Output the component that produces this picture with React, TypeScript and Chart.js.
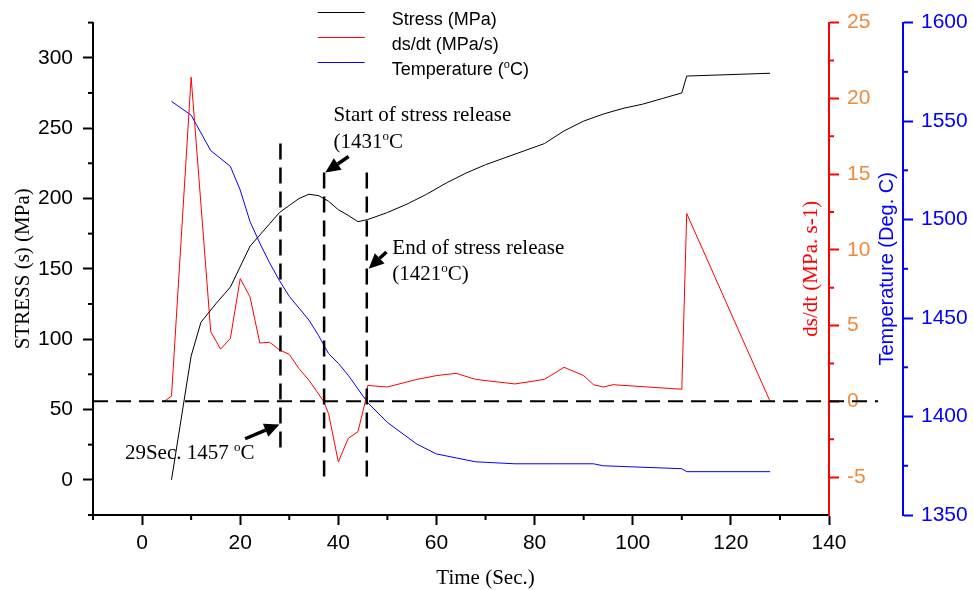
import React, { useEffect, useRef } from 'react';
import { Chart, registerables } from 'chart.js';

Chart.register(...registerables);

// ---- Data ----
const stressTime = [6, 10, 12, 15, 18, 22, 26, 28, 30, 32, 34, 36, 38, 40, 42, 44, 46, 50, 54, 58, 62, 66, 70, 74, 78, 82, 86, 90, 94, 98, 102, 106, 110, 111, 128];
const stressValues = [0, 88, 112, 125, 137, 166, 182, 190, 195, 200, 203, 202, 198, 192, 188, 183.5, 185, 190, 196, 203, 211, 218, 224, 229, 234, 239, 248, 255, 260, 264, 267, 271, 275, 287, 289];

const rateTime = [4.5, 6, 10, 14, 16, 18, 20, 22, 24, 26, 28, 30, 32, 34, 37, 38, 40, 42, 44, 45.5, 46, 50, 56, 60, 64, 68, 76, 82, 86, 90, 92, 94, 96, 110, 111, 128];
const rateValues = [0, 0.35, 21.4, 4.6, 3.45, 4.15, 8.1, 6.9, 3.85, 3.9, 3.4, 3.1, 2.15, 1.4, 0, -0.8, -4.0, -2.45, -2.0, 0, 1.05, 0.95, 1.45, 1.7, 1.85, 1.45, 1.15, 1.45, 2.25, 1.7, 1.1, 0.95, 1.1, 0.8, 12.4, 0];

const tempTime = [6, 10, 14, 18, 20, 22, 24, 26, 28, 30, 32, 34, 36, 38, 40, 42, 44, 46, 50, 56, 60, 64, 68, 76, 84, 92, 94, 110, 111, 128];
const tempValues = [1560, 1553, 1535, 1527, 1515, 1499, 1488, 1478, 1469, 1461, 1455, 1449, 1441, 1432, 1427, 1421, 1414, 1407, 1397, 1386, 1381, 1379, 1377, 1376, 1376, 1376, 1375, 1373.5, 1372, 1372];

// ---- Ticks ----
const xMajorTicks = [0, 20, 40, 60, 80, 100, 120, 140];
const xMinorTicks = [-10, 10, 30, 50, 70, 90, 110, 130];
const stressMajorTicks = [0, 50, 100, 150, 200, 250, 300];
const stressMinorTicks = [-25, 25, 75, 125, 175, 225, 275, 325];
const rateMajorTicks = [-5, 0, 5, 10, 15, 20, 25];
const rateMinorTicks = [-2.5, 2.5, 7.5, 12.5, 17.5, 22.5];
const tempMajorTicks = [1350, 1400, 1450, 1500, 1550, 1600];
const tempMinorTicks = [1375, 1425, 1475, 1525, 1575];

// ---- Labels ----
const seriesNames = ['Stress (MPa)', 'ds/dt (MPa/s)', 'Temperature ('];
const xTitle = 'Time (Sec.)';
const stressTitle = 'STRESS (s) (MPa)';
const rateTitle = 'ds/dt (MPa. s-1)';
const tempTitle = 'Temperature (Deg. C)';

// ---- Annotations (time, stress-axis units) ----
const markerTimes = [28.2, 37.1, 45.8];
const markerTop = [239, 218.5, 218.5];
const markerBottom = [20.5, 0, 0];
const arrows = [
  { from: [21.0, 29.2], to: [28.0, 39.4] },
  { from: [42.1, 229.8], to: [37.35, 218.5] },
  { from: [49.8, 162], to: [46.2, 150.1] },
];

const RED = '#ff0000';
const BLUE = '#0000ff';
const ORANGE = '#ef8a3c';
const SERIF = '"Liberation Serif", "Times New Roman", serif';
const SANS = '"Liberation Sans", Arial, sans-serif';

type Part = { text: string; sup?: boolean };

function drawParts(ctx: CanvasRenderingContext2D, parts: Part[], x: number, y: number, size: number, family: string, color: string) {
  let cx = x;
  ctx.fillStyle = color;
  ctx.textAlign = 'left';
  ctx.textBaseline = 'alphabetic';
  for (const p of parts) {
    const s = p.sup ? Math.round(size * 0.62) : size;
    ctx.font = `${s}px ${family}`;
    const dy = p.sup ? -size * 0.38 : 0;
    ctx.fillText(p.text, cx, y + dy);
    cx += ctx.measureText(p.text).width;
  }
}

function drawArrow(ctx: CanvasRenderingContext2D, x1: number, y1: number, x2: number, y2: number) {
  const ang = Math.atan2(y2 - y1, x2 - x1);
  const headLen = 15;
  const headW = 7;
  const bx = x2 - headLen * Math.cos(ang);
  const by = y2 - headLen * Math.sin(ang);
  ctx.setLineDash([]);
  ctx.lineWidth = 3.5;
  ctx.strokeStyle = '#000';
  ctx.beginPath();
  ctx.moveTo(x1, y1);
  ctx.lineTo(bx, by);
  ctx.stroke();
  ctx.fillStyle = '#000';
  ctx.beginPath();
  ctx.moveTo(x2, y2);
  ctx.lineTo(bx + headW * Math.sin(ang), by - headW * Math.cos(ang));
  ctx.lineTo(bx - headW * Math.sin(ang), by + headW * Math.cos(ang));
  ctx.closePath();
  ctx.fill();
}

const overlayPlugin = {
  id: 'overlay',
  afterDraw(chart: any) {
    const ctx: CanvasRenderingContext2D = chart.ctx;
    const xs = chart.scales.x;
    const ys = chart.scales.yStress;
    const yr = chart.scales.yRate;
    const yt = chart.scales.yTemp;
    const ca = chart.chartArea;
    ctx.save();

    // minor ticks
    ctx.setLineDash([]);
    ctx.lineWidth = 2;
    ctx.strokeStyle = '#000';
    for (const v of xMinorTicks) {
      const px = xs.getPixelForValue(v);
      ctx.beginPath(); ctx.moveTo(px, ca.bottom); ctx.lineTo(px, ca.bottom + 5); ctx.stroke();
    }
    for (const v of stressMinorTicks) {
      const py = ys.getPixelForValue(v);
      ctx.beginPath(); ctx.moveTo(ca.left - 5, py); ctx.lineTo(ca.left, py); ctx.stroke();
    }
    ctx.strokeStyle = RED;
    for (const v of rateMinorTicks) {
      const py = yr.getPixelForValue(v);
      ctx.beginPath(); ctx.moveTo(yr.left, py); ctx.lineTo(yr.left + 5, py); ctx.stroke();
    }
    ctx.strokeStyle = BLUE;
    for (const v of tempMinorTicks) {
      const py = yt.getPixelForValue(v);
      ctx.beginPath(); ctx.moveTo(yt.left, py); ctx.lineTo(yt.left + 5, py); ctx.stroke();
    }

    // horizontal dashed line at ds/dt = 0
    ctx.strokeStyle = '#000';
    ctx.lineWidth = 2;
    ctx.setLineDash([15, 8]);
    const y0 = yr.getPixelForValue(0);
    ctx.beginPath();
    ctx.moveTo(xs.getPixelForValue(-10), y0);
    ctx.lineTo(xs.getPixelForValue(150), y0);
    ctx.stroke();

    // vertical dashed markers
    ctx.lineWidth = 2.5;
    ctx.setLineDash([16, 8]);
    markerTimes.forEach((t, i) => {
      const px = xs.getPixelForValue(t);
      ctx.beginPath();
      ctx.moveTo(px, ys.getPixelForValue(markerTop[i]));
      ctx.lineTo(px, ys.getPixelForValue(markerBottom[i]));
      ctx.stroke();
    });

    // arrows
    for (const a of arrows) {
      drawArrow(ctx, xs.getPixelForValue(a.from[0]), ys.getPixelForValue(a.from[1]), xs.getPixelForValue(a.to[0]), ys.getPixelForValue(a.to[1]));
    }

    // annotation texts
    drawParts(ctx, [{ text: '29Sec. 1457 ' }, { text: 'o', sup: true }, { text: 'C' }], xs.getPixelForValue(-3.5), ys.getPixelForValue(14.9), 21, SERIF, '#000');
    drawParts(ctx, [{ text: 'Start of stress release' }], xs.getPixelForValue(39), ys.getPixelForValue(255.3), 21, SERIF, '#000');
    drawParts(ctx, [{ text: '(1431' }, { text: 'o', sup: true }, { text: 'C' }], xs.getPixelForValue(39), ys.getPixelForValue(236.2), 21, SERIF, '#000');
    drawParts(ctx, [{ text: 'End of stress release' }], xs.getPixelForValue(51), ys.getPixelForValue(160.7), 21, SERIF, '#000');
    drawParts(ctx, [{ text: '(1421' }, { text: 'o', sup: true }, { text: 'C)' }], xs.getPixelForValue(51), ys.getPixelForValue(142), 21, SERIF, '#000');

    // legend
    const legendColors = ['#000', RED, BLUE];
    const legendParts: Part[][] = [
      [{ text: seriesNames[0] }],
      [{ text: seriesNames[1] }],
      [{ text: seriesNames[2] }, { text: 'o', sup: true }, { text: 'C)' }],
    ];
    const lx = xs.getPixelForValue(35.8);
    legendParts.forEach((parts, i) => {
      const ly = 12.5 + i * 25;
      ctx.setLineDash([]);
      ctx.lineWidth = 1.2;
      ctx.strokeStyle = legendColors[i];
      ctx.beginPath(); ctx.moveTo(lx, ly); ctx.lineTo(lx + 47, ly); ctx.stroke();
      drawParts(ctx, parts, lx + 74, ly + 12, 18, SANS, '#000');
    });

    // axis titles
    ctx.fillStyle = '#000';
    ctx.font = `21px ${SERIF}`;
    ctx.textAlign = 'center';
    ctx.textBaseline = 'alphabetic';
    ctx.fillText(xTitle, xs.getPixelForValue(70), 584);

    const midY = (ca.top + ca.bottom) / 2;
    const rot = (text: string, x: number, font: string, color: string) => {
      ctx.save();
      ctx.translate(x, midY);
      ctx.rotate(-Math.PI / 2);
      ctx.font = font;
      ctx.fillStyle = color;
      ctx.textAlign = 'center';
      ctx.textBaseline = 'middle';
      ctx.fillText(text, 0, 0);
      ctx.restore();
    };
    rot(stressTitle, 23, `21px ${SERIF}`, '#000');
    rot(rateTitle, ca.right - 18, `21px ${SERIF}`, RED);
    rot(tempTitle, yt.left - 16, `20px ${SANS}`, BLUE);

    ctx.restore();
  },
};

function setTicks(values: number[]) {
  return (scale: any) => {
    scale.ticks = values.map((v) => ({ value: v }));
  };
}

export default function App() {
  const canvasRef = useRef<HTMLCanvasElement | null>(null);

  useEffect(() => {
    const canvas = canvasRef.current;
    if (!canvas) return;
    const toPts = (xs: number[], ys: number[]) => xs.map((x, i) => ({ x, y: ys[i] }));
    const tickFont = { family: SANS, size: 21 };
    const chart = new Chart(canvas, {
      type: 'line',
      data: {
        datasets: [
          { label: seriesNames[0], data: toPts(stressTime, stressValues), borderColor: '#000', borderWidth: 1, pointRadius: 0, yAxisID: 'yStress' },
          { label: seriesNames[1], data: toPts(rateTime, rateValues), borderColor: RED, borderWidth: 1, pointRadius: 0, yAxisID: 'yRate' },
          { label: 'Temperature (°C)', data: toPts(tempTime, tempValues), borderColor: BLUE, borderWidth: 1, pointRadius: 0, yAxisID: 'yTemp' },
        ],
      },
      options: {
        animation: false,
        responsive: false,
        devicePixelRatio: 1,
        layout: { padding: { top: 20, left: 0, right: 0, bottom: 0 } },
        plugins: { legend: { display: false }, tooltip: { enabled: false } },
        scales: {
          x: {
            type: 'linear',
            position: 'bottom',
            min: -10,
            max: 140,
            afterBuildTicks: setTicks(xMajorTicks),
            afterFit: (s: any) => { s.height = 75; },
            grid: { drawOnChartArea: false, tickLength: 10, tickWidth: 2, tickColor: '#000' },
            border: { display: true, color: '#000', width: 2 },
            ticks: { color: '#000', font: tickFont, padding: 6, maxRotation: 0, autoSkip: false, callback: (v: any) => String(v) },
          },
          yStress: {
            type: 'linear',
            position: 'left',
            min: -25,
            max: 325,
            afterBuildTicks: setTicks(stressMajorTicks),
            afterFit: (s: any) => { s.width = 93; },
            grid: { drawOnChartArea: false, tickLength: 10, tickWidth: 2, tickColor: '#000' },
            border: { display: true, color: '#000', width: 2 },
            ticks: { color: '#000', font: tickFont, padding: 10, autoSkip: false, callback: (v: any) => String(v) },
          },
          yRate: {
            type: 'linear',
            position: 'right',
            weight: 0,
            min: -7.5,
            max: 25,
            afterBuildTicks: setTicks(rateMajorTicks),
            afterFit: (s: any) => { s.width = 74; },
            grid: { drawOnChartArea: false, tickLength: 10, tickWidth: 2, tickColor: RED },
            border: { display: true, color: RED, width: 2 },
            ticks: { color: ORANGE, font: tickFont, padding: 8, autoSkip: false, callback: (v: any) => String(v) },
          },
          yTemp: {
            type: 'linear',
            position: 'right',
            weight: 1,
            min: 1350,
            max: 1600,
            afterBuildTicks: setTicks(tempMajorTicks),
            afterFit: (s: any) => { s.width = 70; },
            grid: { drawOnChartArea: false, tickLength: 10, tickWidth: 2, tickColor: BLUE },
            border: { display: true, color: BLUE, width: 2 },
            ticks: { color: BLUE, font: tickFont, padding: 8, autoSkip: false, callback: (v: any) => String(v) },
          },
        },
      } as any,
      plugins: [overlayPlugin],
    });
    return () => chart.destroy();
  }, []);

  return (
    <div style={{ position: 'absolute', left: 0, top: 0, width: 973, height: 590, background: '#fff' }}>
      <canvas ref={canvasRef} width={973} height={590} style={{ display: 'block' }} />
    </div>
  );
}
